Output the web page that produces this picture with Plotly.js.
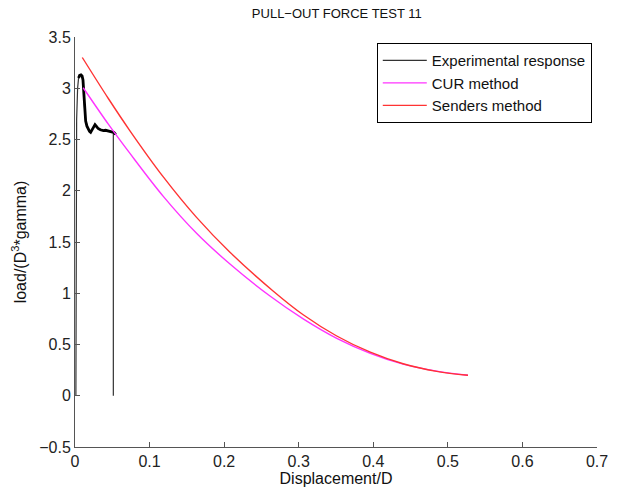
<!DOCTYPE html>
<html>
<head>
<meta charset="utf-8">
<script src="https://cdn.plot.ly/plotly-3.0.1.min.js"></script>
<style>html,body{margin:0;padding:0;background:#fff;}#chart{width:618px;height:489px;}</style>
</head>
<body>
<div id="chart"></div>
<script>
const expX = [0.0012, 0.0015, 0.0022, 0.0035, 0.0048, 0.0062, 0.008, 0.0095, 0.0107, 0.0115, 0.012, 0.0132, 0.0143, 0.016, 0.0178, 0.0195, 0.021, 0.023, 0.025, 0.0268, 0.029, 0.031, 0.034, 0.038, 0.041, 0.0447, 0.047, 0.049, 0.052, 0.0546, 0.0514, 0.0514];
const expY = [0, 1.5, 2.7, 3.0, 3.1, 3.125, 3.13, 3.12, 3.08, 2.98, 2.87, 2.76, 2.68, 2.63, 2.60, 2.58, 2.57, 2.6, 2.63, 2.645, 2.625, 2.607, 2.595, 2.587, 2.59, 2.58, 2.578, 2.574, 2.57, 2.55, 2.56, 0];
// CUR method
const curX = [0.011, 0.0447, 0.0737, 0.1184, 0.163, 0.2078, 0.261, 0.306, 0.351, 0.396, 0.44, 0.485, 0.527];
const curY = [3.005, 2.65, 2.364, 1.945, 1.585, 1.285, 0.975, 0.75, 0.56, 0.414, 0.308, 0.24, 0.2];
// Senders method
const sendX = [0.0098, 0.0447, 0.0737, 0.1184, 0.163, 0.2078, 0.266, 0.306, 0.351, 0.396, 0.44, 0.485, 0.527];
const sendY = [3.30, 2.90, 2.585, 2.135, 1.74, 1.40, 1.02, 0.79, 0.583, 0.425, 0.312, 0.238, 0.2];

const traces = [
  {x: expX, y: expY, mode: 'lines', name: 'Experimental response', line: {color: '#333333', width: 1.2}},
  {x: expX.slice(4, 30), y: expY.slice(4, 30), mode: 'lines', showlegend: false, hoverinfo: 'skip', line: {color: '#000000', width: 2.8}},
  {x: curX, y: curY, mode: 'lines', name: 'CUR method', line: {color: '#ff33ff', width: 1.4, shape: 'spline', smoothing: 1}},
  {x: sendX, y: sendY, mode: 'lines', name: 'Senders method', line: {color: '#ff3333', width: 1.4, shape: 'spline', smoothing: 1}}
];

const FONT = 'Liberation Sans, Arial, sans-serif';
const axisCommon = {
  showgrid: false, zeroline: false, showline: true, linecolor: '#555555', linewidth: 1,
  ticks: 'inside', ticklen: 5, tickcolor: '#555555', mirror: false,
  tickfont: {family: FONT, size: 16, color: '#222222'}
};

const layout = {
  width: 618, height: 489,
  margin: {l: 75, r: 21, t: 37, b: 42},
  paper_bgcolor: '#ffffff', plot_bgcolor: '#ffffff',
  font: {family: FONT, color: '#222222'},
  title: {text: 'PULL−OUT FORCE TEST 11', font: {size: 13, color: '#111111'}, x: 0.545, xanchor: 'center', y: 0.972, yanchor: 'middle'},
  xaxis: Object.assign({}, axisCommon, {range: [0, 0.7], dtick: 0.1, tick0: 0,
    title: {text: 'Displacement/D', font: {size: 16, color: '#111111'}, standoff: 3}}),
  yaxis: Object.assign({}, axisCommon, {range: [-0.5, 3.5], dtick: 0.5, tick0: 0,
    title: {text: 'load/(D<sup>3</sup>*gamma)', font: {size: 16, color: '#111111'}, standoff: 8}}),
  legend: {x: 0.99, xanchor: 'right', y: 0.985, yanchor: 'top', bgcolor: '#ffffff', bordercolor: '#000000', borderwidth: 1,
    font: {size: 15, color: '#111111'}, tracegroupgap: 0, itemwidth: 44}
};

Plotly.newPlot('chart', traces, layout, {staticPlot: true, displayModeBar: false});
</script>
</body>
</html>
